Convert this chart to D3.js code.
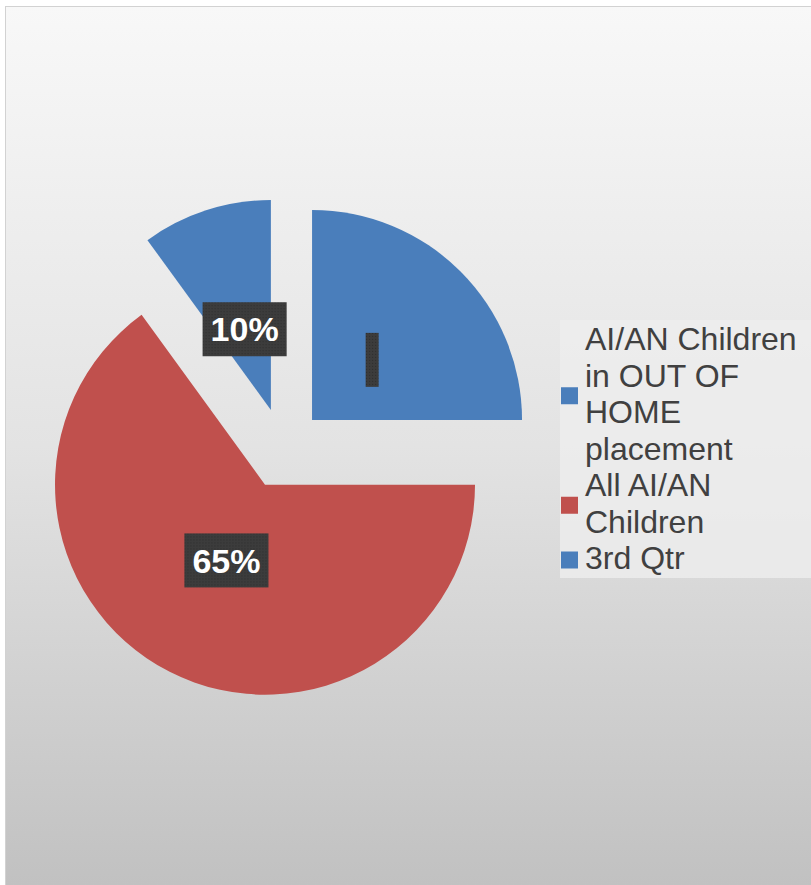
<!DOCTYPE html>
<html>
<head>
<meta charset="utf-8">
<script src="https://cdn.jsdelivr.net/npm/d3@7"></script>
<style>
  body { margin: 0; background: #fff; }
  svg { display: block; }
</style>
</head>
<body>
<script>
// data
var categories = ["AI/AN Children in OUT OF HOME placement", "All AI/AN Children", "3rd Qtr"];
var values = [25, 65, 10];
var labels = ["", "65%", "10%"];
var colors = ["#4a7ebb", "#c0504d", "#4a7ebb"];

var width = 811, height = 885;
var cx = 283.4, cy = 448.6, radius = 210, explode = 40.5;

var svg = d3.select("body").append("svg")
    .attr("width", width)
    .attr("height", height);

// background gradient
var defs = svg.append("defs");
var grad = defs.append("linearGradient")
    .attr("id", "bg")
    .attr("x1", 0).attr("y1", 0).attr("x2", 0).attr("y2", 1);
grad.append("stop").attr("offset", "0%").attr("stop-color", "#f8f8f8");
grad.append("stop").attr("offset", "50%").attr("stop-color", "#e3e3e3");
grad.append("stop").attr("offset", "100%").attr("stop-color", "#c1c1c1");

// dotted texture for the label boxes
var pat = defs.append("pattern")
    .attr("id", "dots")
    .attr("width", 3).attr("height", 3)
    .attr("patternUnits", "userSpaceOnUse");
pat.append("rect").attr("width", 3).attr("height", 3).attr("fill", "#3c3c3c");
pat.append("rect").attr("width", 1).attr("height", 1).attr("fill", "#2c2c2c");

svg.append("rect")
    .attr("x", 5.5).attr("y", 6.5)
    .attr("width", width - 5).attr("height", height - 6)
    .attr("fill", "url(#bg)")
    .attr("stroke", "#d2d2d2");

// pie
var pie = d3.pie().value(function (d) { return d; }).sort(null);
var arc = d3.arc().innerRadius(0).outerRadius(radius);
var arcs = pie(values);

function offset(d, dist) {
    var mid = (d.startAngle + d.endAngle) / 2;
    return [Math.sin(mid) * dist, -Math.cos(mid) * dist];
}

var g = svg.append("g")
    .attr("transform", "translate(" + cx + "," + cy + ")");

var slice = g.selectAll(".slice")
    .data(arcs)
    .enter().append("g")
    .attr("class", "slice")
    .attr("transform", function (d) {
        var o = offset(d, explode);
        return "translate(" + o[0] + "," + o[1] + ")";
    });

slice.append("path")
    .attr("d", arc)
    .attr("fill", function (d, i) { return colors[i]; });

// data labels: dark boxes with white bold text
var lab = slice.append("g")
    .attr("transform", function (d) {
        var o = offset(d, 85);
        return "translate(" + o[0] + "," + o[1] + ")";
    });

lab.each(function (d, i) {
    var sel = d3.select(this);
    var t = sel.append("text")
        .attr("text-anchor", "middle")
        .attr("dy", "0.36em")
        .style("font-family", "'Liberation Sans', Arial, sans-serif")
        .style("font-weight", "bold")
        .style("font-size", "34px")
        .attr("fill", "#fff")
        .text(labels[i]);
    var w = labels[i] ? t.node().getComputedTextLength() + 16 : 13;
    sel.insert("rect", "text")
        .attr("x", -w / 2).attr("y", -27)
        .attr("width", w).attr("height", 54)
        .attr("fill", "url(#dots)");
});

// legend
var legX = 560, legY = 320, lineH = 36.5, firstBase = 350;
var legend = svg.append("g");
legend.append("rect")
    .attr("x", legX).attr("y", legY)
    .attr("width", width - legX).attr("height", 258)
    .attr("fill", "#ededed")
    .attr("opacity", 0.8);

var lineIdx = 0;
categories.forEach(function (name, i) {
    var words = name.split(" ");
    var lines = [];
    var tmp = legend.append("text")
        .style("font-family", "'Liberation Sans', Arial, sans-serif")
        .style("font-size", "32px");
    var cur = "";
    words.forEach(function (w) {
        var test = cur ? cur + " " + w : w;
        tmp.text(test);
        if (tmp.node().getComputedTextLength() > 220 && cur) {
            lines.push(cur);
            cur = w;
        } else {
            cur = test;
        }
    });
    lines.push(cur);
    tmp.remove();

    var start = lineIdx;
    lines.forEach(function (l) {
        legend.append("text")
            .attr("x", 585)
            .attr("y", firstBase + lineIdx * lineH)
            .style("font-family", "'Liberation Sans', Arial, sans-serif")
            .style("font-size", "32px")
            .attr("fill", "#404040")
            .text(l);
        lineIdx++;
    });
    var mid = firstBase + (start + lineIdx - 1) / 2 * lineH - 9;
    legend.append("rect")
        .attr("x", 561).attr("y", mid - 8.5)
        .attr("width", 17).attr("height", 17)
        .attr("fill", colors[i]);
});
</script>
</body>
</html>
